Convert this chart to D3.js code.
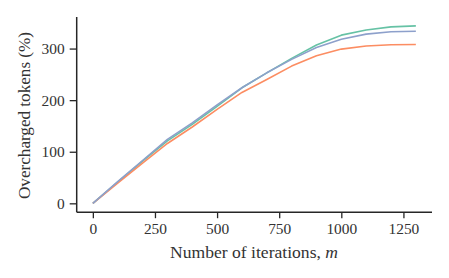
<!DOCTYPE html>
<html><head><meta charset="utf-8">
<script src="https://cdn.jsdelivr.net/npm/d3@7"></script>
<style>body{margin:0;background:#fff;} svg{display:block;}</style>
</head><body>
<svg id="c" width="449" height="278"></svg>
<script>
const iterations = [0,100,200,300,400,500,600,700,800,900,1000,1100,1200,1300];
const seriesGreen  = [0,41,82,121,153,188,224,253,281,307,326,336,342,344];
const seriesOrange = [0,39,78,116,148,182,215,240,266,286,299,305,307.5,308];
const seriesBlue   = [0,42,83,124,156,191,224,253,279,302,318,328,332.5,333.5];
const series = [
  {name:"green", values: seriesGreen, color:"#66c2a5"},
  {name:"orange", values: seriesOrange, color:"#fc8d62"},
  {name:"blue", values: seriesBlue, color:"#8da0cb"}
];
const xTicks = [0,250,500,750,1000,1250];
const yTicks = [0,100,200,300];

const svg = d3.select("#c");
const L = 76.7, R = 432, T = 17, B = 212.2;
const x = d3.scaleLinear().domain([-65,1365]).range([L,R]);
const y = d3.scaleLinear().domain([-17.2,361.2]).range([B,T]);
const font = "'Liberation Serif', 'DejaVu Serif', serif";
const ink = "#262626";

const line = d3.line().x((d,i)=>x(iterations[i])).y(d=>y(d));
series.forEach(s=>{
  svg.append("path").attr("d", line(s.values)).attr("fill","none")
    .attr("stroke", s.color).attr("stroke-width",1.6).attr("stroke-linejoin","round");
});

const xa = svg.append("g").attr("transform",`translate(0,${B})`)
  .call(d3.axisBottom(x).tickValues(xTicks).tickSize(6).tickPadding(5).tickFormat(d3.format("d")));
const ya = svg.append("g").attr("transform",`translate(${L},0)`)
  .call(d3.axisLeft(y).tickValues(yTicks).tickSize(7).tickPadding(5).tickFormat(d3.format("d")));
[xa,ya].forEach(a=>{
  a.select(".domain").attr("stroke",ink).attr("stroke-width",1.5);
  a.selectAll(".tick line").attr("stroke",ink).attr("stroke-width",1.3);
  a.selectAll("text").attr("font-family",font).attr("font-size",15.4).attr("fill","#333");
});
xa.select(".domain").attr("d",`M${L},0H${R}`);
ya.select(".domain").attr("d",`M0,${B}V${T}`);

const xl = svg.append("text").attr("x",170).attr("y",258)
  .attr("textLength",168).attr("lengthAdjust","spacingAndGlyphs")
  .attr("font-family",font).attr("font-size",16).attr("fill","#333");
xl.append("tspan").text("Number of iterations, ");
xl.append("tspan").attr("font-style","italic").text("m");

svg.append("text").attr("transform",`translate(30,${(32+199)/2}) rotate(-90)`).attr("text-anchor","middle")
  .attr("textLength",167).attr("lengthAdjust","spacingAndGlyphs")
  .attr("font-family",font).attr("font-size",16).attr("fill","#333").text("Overcharged tokens (%)");
</script>
</body></html>
